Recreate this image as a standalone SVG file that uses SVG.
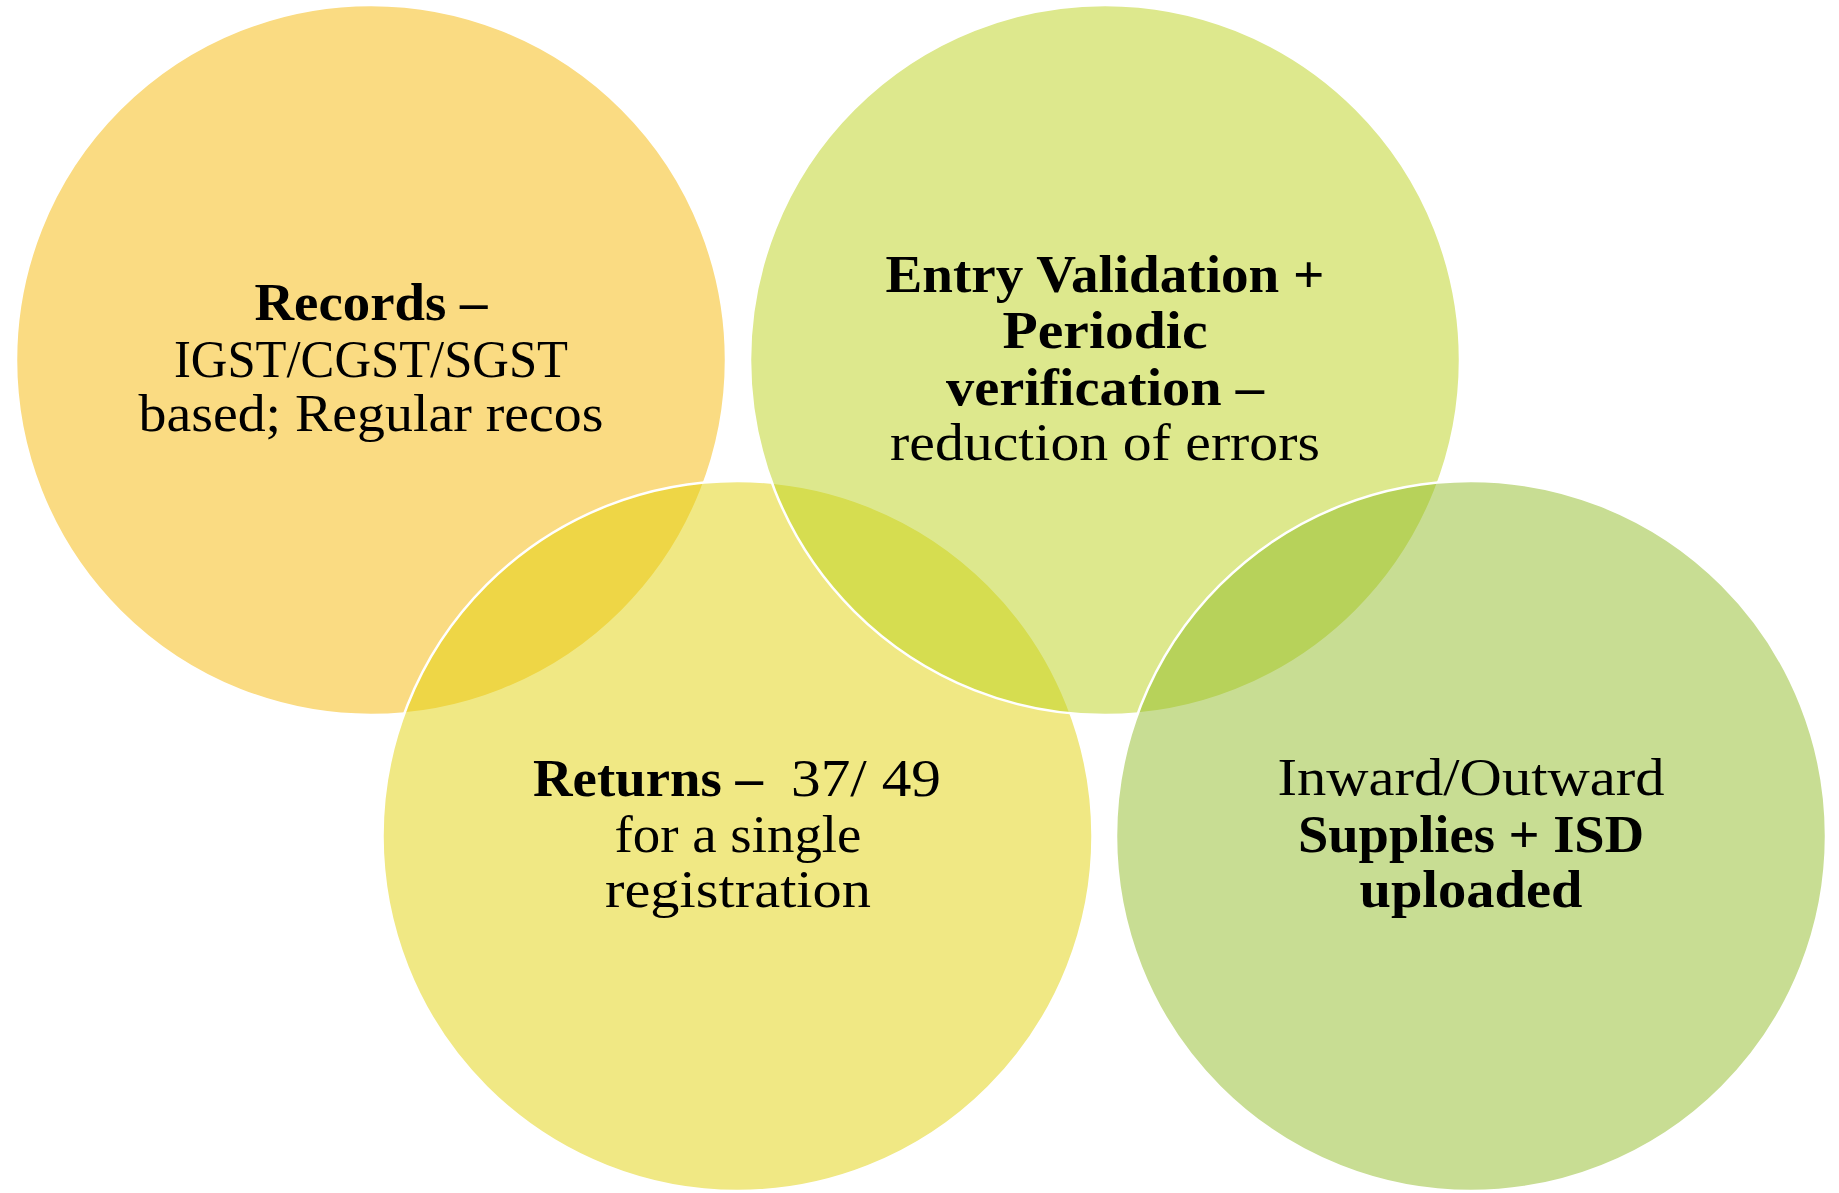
<svg xmlns="http://www.w3.org/2000/svg" width="1839" height="1193" viewBox="0 0 1839 1193">
  <style>
    .disc { stroke: #ffffff; stroke-width: 2.5; fill-opacity: 0.5; }
    text { font-family: "Liberation Serif", "Times New Roman", serif; font-size: 53px; fill: #000000; text-anchor: middle; }
    .b { font-weight: bold; }
    .s { text-anchor: start; }
  </style>
  <rect width="1839" height="1193" fill="#ffffff"/>

  <!-- Records (top left) -->
  <g id="records">
    <circle class="disc" cx="371" cy="360" r="355" fill="#F5B705"/>
    <text class="b" x="371" y="320" textLength="233" lengthAdjust="spacingAndGlyphs">Records –</text>
    <text x="371" y="377" textLength="394" lengthAdjust="spacingAndGlyphs">IGST/CGST/SGST</text>
    <text x="371" y="431" textLength="465" lengthAdjust="spacingAndGlyphs">based; Regular recos</text>
  </g>

  <!-- Returns (bottom, between the top two) -->
  <g id="returns">
    <circle class="disc" cx="737.5" cy="836" r="355" fill="#E1D109"/>
    <text class="b s" x="533" y="796" textLength="230" lengthAdjust="spacingAndGlyphs">Returns –</text>
    <text class="s" x="791" y="796" textLength="150" lengthAdjust="spacingAndGlyphs">37/ 49</text>
    <text x="738" y="852" textLength="247" lengthAdjust="spacingAndGlyphs">for a single</text>
    <text x="738" y="907" textLength="266" lengthAdjust="spacingAndGlyphs">registration</text>
  </g>

  <!-- Entry validation (top right) -->
  <g id="validation">
    <circle class="disc" cx="1105" cy="360" r="355" fill="#BBD11B"/>
    <text class="b" x="1105" y="292" textLength="439" lengthAdjust="spacingAndGlyphs">Entry Validation +</text>
    <text class="b" x="1105" y="348" textLength="205" lengthAdjust="spacingAndGlyphs">Periodic</text>
    <text class="b" x="1105" y="405" textLength="318" lengthAdjust="spacingAndGlyphs">verification –</text>
    <text x="1105" y="460" textLength="430" lengthAdjust="spacingAndGlyphs">reduction of errors</text>
  </g>

  <!-- Supplies (bottom right) -->
  <g id="supplies">
    <circle class="disc" cx="1471" cy="836" r="355" fill="#91BB27"/>
    <text x="1471" y="795" textLength="387" lengthAdjust="spacingAndGlyphs">Inward/Outward</text>
    <text class="b" x="1471" y="852" textLength="346" lengthAdjust="spacingAndGlyphs">Supplies + ISD</text>
    <text class="b" x="1471" y="907" textLength="223" lengthAdjust="spacingAndGlyphs">uploaded</text>
  </g>

  <g id="connectors"/>
</svg>
